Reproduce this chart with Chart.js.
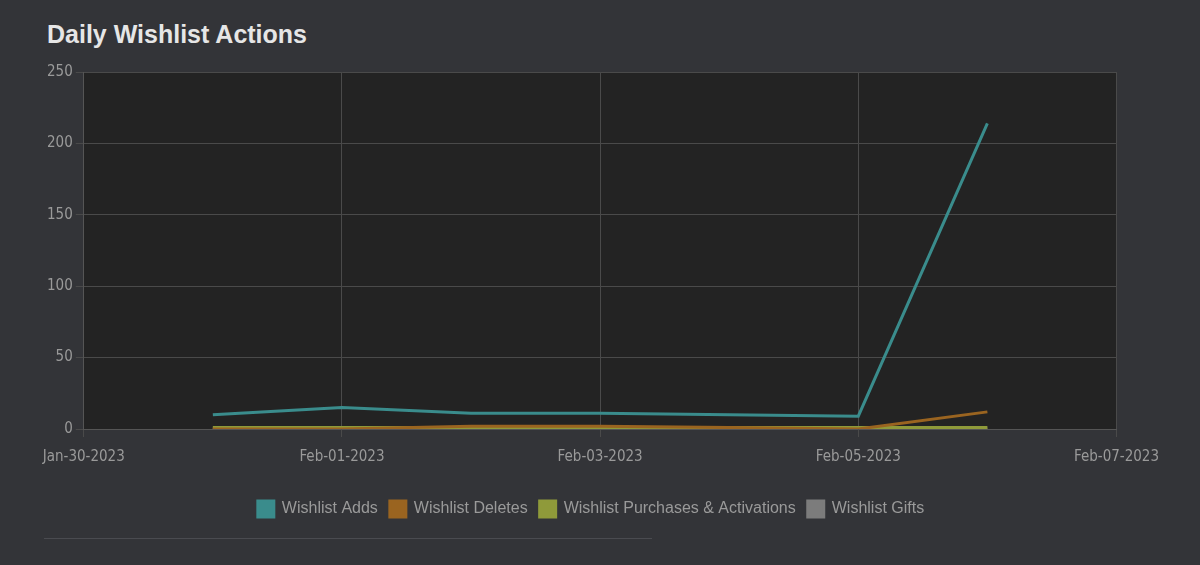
<!DOCTYPE html>
<html>
<head>
<meta charset="utf-8">
<script src="https://cdn.jsdelivr.net/npm/chart.js@4"></script>
<style>
  html, body { margin: 0; padding: 0; background: #333438; }
  #wrap { position: relative; width: 1200px; height: 565px; }
  h1 { position: absolute; left: 47px; top: 20px; margin: 0; font: bold 25px "Liberation Sans", Arial, sans-serif; color: #e6e6e6; }
  #box { position: absolute; left: 20px; top: 60px; width: 1150px; height: 467px; }
  #rule { position: absolute; left: 44px; top: 538px; width: 608px; border-top: 1px solid #4a4b50; }
</style>
</head>
<body>
<div id="wrap">
  <h1>Daily Wishlist Actions</h1>
  <div id="box"><canvas id="c"></canvas></div>
  <div id="rule"></div>
</div>
<script>
// day index 0 = Jan-30-2023
const dayLabels = ['Jan-30-2023', 'Jan-31-2023', 'Feb-01-2023', 'Feb-02-2023', 'Feb-03-2023', 'Feb-04-2023', 'Feb-05-2023', 'Feb-06-2023', 'Feb-07-2023'];
const days = [1, 2, 3, 4, 5, 6, 7];
const adds = [10, 15, 11, 11, 10, 9, 214];
const deletes = [0, 0, 2, 2, 1, 0, 12];
const purchases = [1, 1, 1, 1, 1, 1, 1];
const gifts = [0, 0, 0, 0, 0, 0, 0];

function pts(vals) { return vals.map((v, i) => ({ x: days[i], y: v })); }

// dark plot background
const plotBg = {
  id: 'plotBg',
  beforeDraw(chart) {
    const a = chart.chartArea, ctx = chart.ctx;
    ctx.save();
    ctx.fillStyle = '#232323';
    ctx.fillRect(a.left, a.top, a.right - a.left, a.bottom - a.top);
    ctx.restore();
  }
};

const line = (label, data, color) => ({
  label, data: pts(data), borderColor: color, backgroundColor: color,
  borderWidth: 3, pointRadius: 0, tension: 0
});

new Chart(document.getElementById('c'), {
  type: 'line',
  data: {
    datasets: [
      line('Wishlist Adds', adds, '#3a8c8c'),
      line('Wishlist Deletes', deletes, '#9a6420'),
      line('Wishlist Purchases & Activations', purchases, '#8f9a3a'),
      line('Wishlist Gifts', gifts, '#7c7c7c')
    ]
  },
  options: {
    responsive: true,
    maintainAspectRatio: false,
    animation: false,
    layout: { padding: { left: 24, right: 32, top: 10 } },
    plugins: {
      legend: {
        position: 'bottom',
        labels: { color: '#9a9a9a', font: { family: 'Liberation Sans', size: 16 }, boxWidth: 16, boxHeight: 16, padding: 12 }
      },
      tooltip: { enabled: false }
    },
    scales: {
      x: {
        type: 'linear', min: 0, max: 8,
        afterFit: s => { s.height += 12; },
        ticks: { stepSize: 2, padding: 11, color: '#9a9a9a', font: { family: 'DejaVu Sans Condensed', size: 15 }, callback: v => dayLabels[v] },
        grid: { color: '#4a4a4a', tickLength: 8 },
        border: { color: '#555' }
      },
      y: {
        min: 0, max: 250,
        ticks: { stepSize: 50, color: '#9a9a9a', font: { family: 'DejaVu Sans Condensed', size: 15 } },
        grid: { color: '#4a4a4a', tickLength: 8 },
        border: { color: '#555' }
      }
    }
  },
  plugins: [plotBg]
});
</script>
</body>
</html>
